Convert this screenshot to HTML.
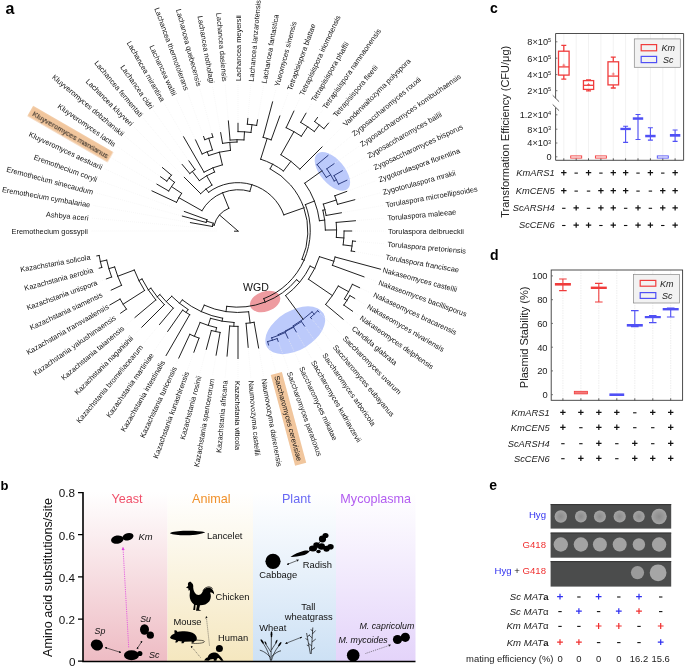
<!DOCTYPE html>
<html><head><meta charset="utf-8">
<style>
html,body{margin:0;padding:0;background:#fff;width:685px;height:667px;overflow:hidden}
svg{display:block;font-family:"Liberation Sans",sans-serif;will-change:transform}
.lab text{font-size:7.4px;fill:#111}
.b{font-weight:bold}
.it{font-style:italic}
</style></head><body>
<svg width="685" height="667" viewBox="0 0 685 667">
<defs>
<linearGradient id="gY" x1="0" y1="0" x2="0" y2="1"><stop offset="0" stop-color="#ffffff"/><stop offset="1" stop-color="#eebcc4"/></linearGradient>
<linearGradient id="gA" x1="0" y1="0" x2="0" y2="1"><stop offset="0" stop-color="#ffffff"/><stop offset="1" stop-color="#f5e7bf"/></linearGradient>
<linearGradient id="gP" x1="0" y1="0" x2="0" y2="1"><stop offset="0" stop-color="#ffffff"/><stop offset="1" stop-color="#cde1f5"/></linearGradient>
<linearGradient id="gM" x1="0" y1="0" x2="0" y2="1"><stop offset="0" stop-color="#ffffff"/><stop offset="1" stop-color="#e4d4fa"/></linearGradient>
<marker id="ah" viewBox="0 0 6 6" refX="5" refY="3" markerWidth="4" markerHeight="4" orient="auto-start-reverse"><path d="M0,0 L6,3 L0,6 z" fill="#111"/></marker>
<marker id="ahm" viewBox="0 0 6 6" refX="5" refY="3" markerWidth="4" markerHeight="4" orient="auto-start-reverse"><path d="M0,0 L6,3 L0,6 z" fill="#e040e0"/></marker>
</defs>

<!-- panel letters -->
<text x="5.5" y="14.4" font-size="16" class="b" fill="#000">a</text>
<text x="490" y="12.5" font-size="14" class="b" fill="#000">c</text>
<text x="0.5" y="490" font-size="13" class="b" fill="#000">b</text>
<text x="490" y="260" font-size="14" class="b" fill="#000">d</text>
<text x="489.3" y="490" font-size="14" class="b" fill="#000">e</text>

<!-- ================= PANEL A: tree ================= -->
<g id="tree">
<ellipse cx="332.4" cy="171.4" rx="23.3" ry="12.1" transform="rotate(49.5 332.4 171.4)" fill="#bccafb"/>
<ellipse cx="295.25" cy="330.25" rx="32.9" ry="19.7" transform="rotate(-31 295.25 330.25)" fill="#bccafb"/>
<ellipse cx="265.1" cy="301.5" rx="15.65" ry="10" transform="rotate(-18 265.1 301.5)" fill="#ee9ba0"/>
<text x="243.1" y="291.4" font-size="10" textLength="25.8" lengthAdjust="spacingAndGlyphs" fill="#111">WGD</text>
<path d="M234,231.2 H238.6" stroke="#141414" stroke-width="0.95"/>
<path d="M216.50,231.00 L90.50,231.00 M216.58,229.13 L91.06,218.14 M188.96,222.35 L92.74,205.39 M180.91,215.70 L95.53,192.82 M182.93,210.96 L99.40,180.55 M150.63,190.26 L104.32,168.66 M155.64,183.45 L110.26,157.25 M159.28,175.88 L117.18,146.40 M161.24,166.59 L125.01,136.19 M183.20,176.20 L133.70,126.70 M181.18,163.28 L143.19,118.01 M188.04,159.65 L153.40,110.18 M182.85,135.48 L164.25,103.26 M194.89,138.56 L175.66,97.32 M203.08,135.06 L187.55,92.40 M211.52,132.19 L199.82,88.53 M220.39,131.14 L212.39,85.74 M228.24,119.43 L225.14,84.06 M238.00,121.80 L238.00,83.50 M247.98,116.94 L250.86,84.06 M257.87,118.34 L263.61,85.74 M272.99,100.41 L276.18,88.53 M280.38,114.57 L288.45,92.40 M294.55,109.74 L300.34,97.32 M306.75,111.92 L311.75,103.26 M318.36,116.24 L322.60,110.18 M329.47,121.99 L332.81,118.01 M323.14,145.86 L342.30,126.70 M329.16,154.51 L350.99,136.19 M335.23,162.92 L358.82,146.40 M343.66,170.00 L365.74,157.25 M348.21,179.61 L371.68,168.66 M348.13,190.92 L376.60,180.55 M356.23,199.32 L380.47,192.82 M342.88,212.51 L383.26,205.39 M356.95,220.59 L384.94,218.14 M353.20,231.00 L385.50,231.00 M357.05,241.42 L384.94,243.86 M356.18,251.84 L383.26,256.61 M381.92,269.56 L380.47,269.18 M365.42,277.38 L376.60,281.45 M360.99,288.35 L371.68,293.34 M356.04,299.15 L365.74,304.75 M353.83,312.10 L358.82,315.60 M344.33,320.22 L350.99,325.81 M320.10,313.10 L342.30,335.30 M312.56,319.86 L332.81,343.99 M305.45,327.33 L322.60,351.82 M297.00,333.19 L311.75,358.74 M288.59,339.49 L300.34,364.68 M278.70,342.82 L288.45,369.60 M268.93,346.43 L276.18,373.47 M258.89,349.47 L263.61,376.26 M248.31,348.85 L250.86,377.94 M238.00,360.00 L238.00,378.50 M226.92,357.62 L225.14,377.94 M215.84,356.66 L212.39,376.26 M205.91,350.77 L199.82,373.47 M193.37,353.63 L187.55,369.60 M178.11,359.42 L175.66,364.68 M165.35,356.83 L164.25,358.74 M166.82,332.66 L153.40,351.82 M158.55,325.68 L143.19,343.99 M140.70,328.30 L133.70,335.30 M133.82,318.42 L125.01,325.81 M119.39,314.05 L117.18,315.60 M108.62,305.70 L110.26,304.75 M109.85,290.76 L104.32,293.34 M104.94,279.43 L99.40,281.45 M97.75,268.58 L95.53,269.18 M95.30,256.16 L92.74,256.61" fill="none" stroke="#f0f0f0" stroke-width="0.6" stroke-dasharray="0.8,1.2"/>
<path d="M238.00,231.00 L219.48,214.96 M228.83,208.28 A24.50,24.50 0 0 0 214.20,225.18 M214.20,225.18 L212.75,224.82 M213.20,223.18 A26.00,26.00 0 0 0 212.39,226.49 M213.20,223.18 L206.53,221.08 M206.99,219.71 A33.00,33.00 0 0 0 206.12,222.46 M206.12,222.46 L182.36,216.09 M206.99,219.71 L184.34,211.47 M212.39,226.49 L190.43,222.61 M228.83,208.28 L222.50,192.61 M249.87,191.34 A41.40,41.40 0 0 0 201.92,210.69 M201.92,210.69 L178.92,197.74 M181.63,193.33 A67.80,67.80 0 0 0 176.55,202.35 M176.55,202.35 L151.99,190.89 M181.63,193.33 L171.48,186.55 M174.53,182.30 A80.00,80.00 0 0 0 168.72,191.00 M168.72,191.00 L156.94,184.20 M174.53,182.30 L169.06,178.10 M171.43,175.14 A86.90,86.90 0 0 0 166.82,181.16 M166.82,181.16 L160.51,176.74 M171.43,175.14 L162.39,167.56 M249.87,191.34 L251.93,184.44 M283.84,214.86 A48.60,48.60 0 0 0 208.56,192.33 M208.56,192.33 L206.01,188.99 M211.94,185.08 A52.80,52.80 0 0 0 200.66,193.66 M200.66,193.66 L184.26,177.26 M211.94,185.08 L206.66,175.77 M214.58,171.98 A63.50,63.50 0 0 0 199.34,180.62 M199.34,180.62 L192.34,171.50 M194.98,169.56 A75.00,75.00 0 0 0 189.79,173.55 M189.79,173.55 L182.14,164.43 M194.98,169.56 L188.90,160.88 M214.58,171.98 L212.92,167.79 M222.38,164.82 A68.00,68.00 0 0 0 204.00,172.11 M204.00,172.11 L183.60,136.78 M222.38,164.82 L219.39,152.17 M230.50,150.35 A81.00,81.00 0 0 0 208.64,155.51 M208.64,155.51 L207.19,151.78 M212.44,149.93 A85.00,85.00 0 0 0 202.08,153.96 M202.08,153.96 L195.53,139.92 M212.44,149.93 L208.77,138.30 M212.84,137.11 A97.20,97.20 0 0 0 204.76,139.66 M204.76,139.66 L203.59,136.47 M212.84,137.11 L211.91,133.63 M230.50,150.35 L229.76,142.38 M237.03,142.01 A89.00,89.00 0 0 0 222.55,143.35 M222.55,143.35 L220.65,132.62 M237.03,142.01 L237.00,139.71 M243.97,139.90 A91.30,91.30 0 0 0 230.04,140.05 M230.04,140.05 L228.37,120.92 M243.97,139.90 L244.50,131.81 M250.97,132.45 A99.40,99.40 0 0 0 238.00,131.60 M238.00,131.60 L238.00,123.30 M250.97,132.45 L251.99,124.72 M256.62,125.43 A107.20,107.20 0 0 0 247.34,124.21 M247.34,124.21 L247.85,118.43 M256.62,125.43 L257.60,119.82 M283.84,214.86 L304.03,207.75 M302.02,259.32 A70.00,70.00 0 0 0 270.15,168.82 M270.15,168.82 L272.59,164.11 M283.51,171.01 A75.30,75.30 0 0 0 260.64,159.19 M260.64,159.19 L267.17,138.49 M271.18,139.85 A97.00,97.00 0 0 0 263.11,137.31 M263.11,137.31 L272.60,101.86 M271.18,139.85 L279.86,115.98 M283.51,171.01 L290.89,161.29 M299.87,169.13 A87.50,87.50 0 0 0 280.92,154.75 M280.92,154.75 L293.92,131.66 M301.34,136.21 A114.00,114.00 0 0 0 286.18,127.68 M286.18,127.68 L293.91,111.10 M301.34,136.21 L307.67,126.73 M314.34,131.51 A125.40,125.40 0 0 0 300.70,122.40 M300.70,122.40 L306.00,113.22 M314.34,131.51 L319.33,125.01 M323.88,128.66 A133.60,133.60 0 0 0 314.63,121.56 M314.63,121.56 L317.50,117.47 M323.88,128.66 L328.50,123.14 M299.87,169.13 L322.07,146.93 M302.02,259.32 L304.21,260.29 M263.79,298.65 A72.40,72.40 0 0 0 305.41,204.58 M305.41,204.58 L314.44,201.04 M319.45,220.73 A82.10,82.10 0 0 0 304.73,183.18 M304.73,183.18 L321.97,170.83 M319.45,220.73 L324.71,220.06 M325.39,230.05 A87.40,87.40 0 0 0 322.90,210.23 M322.90,210.23 L324.94,209.73 M326.14,215.46 A89.50,89.50 0 0 0 323.36,204.09 M323.36,204.09 L336.23,200.03 M337.49,204.34 A103.00,103.00 0 0 0 334.79,195.77 M334.79,195.77 L346.72,191.43 M337.49,204.34 L354.78,199.71 M326.14,215.46 L341.40,212.77 M325.39,230.05 L336.59,229.92 M336.39,237.45 A98.60,98.60 0 0 0 336.22,222.41 M336.22,222.41 L355.45,220.72 M336.39,237.45 L343.87,237.94 M343.19,244.85 A106.10,106.10 0 0 0 344.10,231.00 M344.10,231.00 L351.70,231.00 M343.19,244.85 L352.02,246.01 M351.25,250.97 A115.00,115.00 0 0 0 352.56,241.02 M352.56,241.02 L355.55,241.28 M351.25,250.97 L354.70,251.58 M263.79,298.65 L265.15,302.20 M226.75,306.36 A76.20,76.20 0 0 0 296.57,279.74 M296.57,279.74 L299.65,282.30 M285.60,295.55 A80.20,80.20 0 0 0 310.12,266.08 M310.12,266.08 L314.80,268.35 M308.49,279.22 A85.40,85.40 0 0 0 319.45,256.68 M319.45,256.68 L333.85,261.22 M332.44,265.37 A100.50,100.50 0 0 0 335.08,257.01 M335.08,257.01 L380.47,269.18 M332.44,265.37 L364.01,276.86 M308.49,279.22 L332.42,295.59 M325.64,304.53 A114.40,114.40 0 0 0 338.30,286.03 M338.30,286.03 L348.64,291.70 M344.44,298.81 A126.20,126.20 0 0 0 352.38,284.33 M352.38,284.33 L359.63,287.72 M344.44,298.81 L346.97,300.42 M343.83,305.11 A129.20,129.20 0 0 0 349.89,295.60 M349.89,295.60 L354.74,298.40 M343.83,305.11 L352.60,311.24 M325.64,304.53 L343.18,319.25 M285.60,295.55 L303.11,319.29 M226.75,306.36 L225.97,311.61 M204.23,305.17 A81.50,81.50 0 0 0 248.64,311.80 M248.64,311.80 L250.10,322.91 M246.08,323.35 A92.70,92.70 0 0 0 254.10,322.29 M254.10,322.29 L258.63,348.00 M246.08,323.35 L248.18,347.36 M204.23,305.17 L201.28,311.63 M182.28,299.89 A88.60,88.60 0 0 0 222.61,318.25 M222.61,318.25 L222.09,321.21 M210.46,318.36 A91.60,91.60 0 0 0 234.00,322.51 M234.00,322.51 L233.84,326.31 M229.69,326.04 A95.40,95.40 0 0 0 238.00,326.40 M238.00,326.40 L238.00,358.50 M229.69,326.04 L227.05,356.12 M210.46,318.36 L208.23,325.42 M200.11,322.46 A99.00,99.00 0 0 0 216.57,327.65 M216.57,327.65 L215.71,331.56 M211.34,330.49 A103.00,103.00 0 0 0 220.11,332.44 M220.11,332.44 L216.10,355.18 M211.34,330.49 L206.29,349.33 M200.11,322.46 L194.37,336.32 M189.82,334.32 A114.00,114.00 0 0 0 199.01,338.12 M199.01,338.12 L193.88,352.22 M189.82,334.32 L178.75,358.06 M182.28,299.89 L179.52,303.31 M171.75,296.27 A93.00,93.00 0 0 0 188.03,309.44 M188.03,309.44 L186.10,312.47 M182.59,310.13 A96.60,96.60 0 0 0 189.70,314.66 M189.70,314.66 L166.10,355.53 M182.59,310.13 L167.68,331.43 M171.75,296.27 L166.26,301.67 M159.90,294.56 A100.70,100.70 0 0 0 173.27,308.14 M173.27,308.14 L159.52,324.53 M159.90,294.56 L157.18,296.77 M150.89,288.18 A104.20,104.20 0 0 0 164.32,304.68 M164.32,304.68 L141.76,327.24 M150.89,288.18 L148.30,289.88 M142.03,278.98 A107.30,107.30 0 0 0 155.80,299.97 M155.80,299.97 L134.97,317.45 M142.03,278.98 L138.90,280.55 M134.30,270.03 A110.80,110.80 0 0 0 144.55,290.53 M144.55,290.53 L123.13,304.18 M120.05,299.10 A136.20,136.20 0 0 0 126.43,309.12 M126.43,309.12 L120.62,313.19 M120.05,299.10 L109.91,304.95 M134.30,270.03 L117.74,276.26 M114.63,266.96 A128.50,128.50 0 0 0 121.54,285.31 M121.54,285.31 L111.21,290.12 M114.63,266.96 L108.87,268.64 M106.69,260.11 A134.50,134.50 0 0 0 111.61,277.00 M111.61,277.00 L106.35,278.92 M106.69,260.11 L100.34,261.52 M99.14,255.48 A141.00,141.00 0 0 0 101.80,267.49 M101.80,267.49 L99.20,268.19 M99.14,255.48 L96.78,255.90" fill="none" stroke="#141414" stroke-width="0.95" stroke-linecap="square"/>
<path d="M326.31,177.41 A103.30,103.30 0 0 0 317.13,164.60 M317.13,164.60 L328.01,155.47 M326.31,177.41 L330.67,174.76 M334.15,180.95 A108.40,108.40 0 0 0 326.80,168.82 M326.80,168.82 L334.00,163.78 M334.15,180.95 L336.37,179.79 M338.51,184.13 A110.90,110.90 0 0 0 334.04,175.55 M334.04,175.55 L342.36,170.75 M338.51,184.13 L346.85,180.24 M293.37,325.70 A109.70,109.70 0 0 0 312.11,311.88 M312.11,311.88 L314.21,314.16 M310.51,317.41 A112.80,112.80 0 0 0 317.76,310.76 M317.76,310.76 L319.03,312.03 M310.51,317.41 L311.60,318.71 M293.37,325.70 L293.82,326.48 M285.83,330.72 A110.60,110.60 0 0 0 301.44,321.60 M301.44,321.60 L304.59,326.10 M285.83,330.72 L286.05,331.17 M278.27,334.55 A111.10,111.10 0 0 0 293.55,327.22 M293.55,327.22 L296.25,331.89 M278.27,334.55 L278.59,335.38 M271.68,337.82 A112.00,112.00 0 0 0 285.33,332.51 M285.33,332.51 L287.95,338.13 M271.68,337.82 L272.43,340.20 M267.63,341.60 A114.50,114.50 0 0 0 277.16,338.59 M277.16,338.59 L278.19,341.41 M267.63,341.60 L268.54,344.98" fill="none" stroke="#27377a" stroke-width="0.95" stroke-linecap="square"/>
</g>
<g class="lab">
<g transform="translate(88.00,231.00) rotate(0.00)"><text x="0" y="2.6" text-anchor="end">Eremothecium gossypii</text></g>
<g transform="translate(88.57,217.93) rotate(5.00)"><text x="0" y="2.6" text-anchor="end">Ashbya aceri</text></g>
<g transform="translate(90.28,204.95) rotate(10.00)"><text x="0" y="2.6" text-anchor="end">Eremothecium cymbalariae</text></g>
<g transform="translate(93.11,192.18) rotate(15.00)"><text x="0" y="2.6" text-anchor="end">Eremothecium sinecaudum</text></g>
<g transform="translate(97.05,179.70) rotate(20.00)"><text x="0" y="2.6" text-anchor="end">Eremothecium coryli</text></g>
<g transform="translate(102.05,167.61) rotate(25.00)"><text x="0" y="2.6" text-anchor="end">Kluyveromyces aestuarii</text></g>
<g transform="translate(108.10,156.00) rotate(30.00)"><rect x="-89.9" y="-5.9" width="92.4" height="11.5" fill="#f1c69d"/><text x="0" y="2.6" text-anchor="end">Kluyveromyces marxianus</text></g>
<g transform="translate(115.13,144.96) rotate(35.00)"><text x="0" y="2.6" text-anchor="end">Kluyveromyces lactis</text></g>
<g transform="translate(123.09,134.58) rotate(40.00)"><text x="0" y="2.6" text-anchor="end">Kluyveromyces dobzhanskii</text></g>
<g transform="translate(131.93,124.93) rotate(45.00)"><text x="0" y="2.6" text-anchor="end">Lachancea kluyveri</text></g>
<g transform="translate(141.58,116.09) rotate(50.00)"><text x="0" y="2.6" text-anchor="end">Lachancea fermentati</text></g>
<g transform="translate(151.96,108.13) rotate(55.00)"><text x="0" y="2.6" text-anchor="end">Lachancea cidri</text></g>
<g transform="translate(163.00,101.10) rotate(60.00)"><text x="0" y="2.6" text-anchor="end">Lachancea mirantina</text></g>
<g transform="translate(174.61,95.05) rotate(65.00)"><text x="0" y="2.6" text-anchor="end">Lachancea waltii</text></g>
<g transform="translate(186.70,90.05) rotate(70.00)"><text x="0" y="2.6" text-anchor="end">Lachancea thermotolerans</text></g>
<g transform="translate(199.18,86.11) rotate(75.00)"><text x="0" y="2.6" text-anchor="end">Lachancea quebecensis</text></g>
<g transform="translate(211.95,83.28) rotate(80.00)"><text x="0" y="2.6" text-anchor="end">Lachancea nothofagi</text></g>
<g transform="translate(224.93,81.57) rotate(85.00)"><text x="0" y="2.6" text-anchor="end">Lachancea dasiensis</text></g>
<g transform="translate(238.00,81.00) rotate(-90.00)"><text x="0" y="2.6" text-anchor="start">Lachancea meyersii</text></g>
<g transform="translate(251.07,81.57) rotate(-85.00)"><text x="0" y="2.6" text-anchor="start">Lachancea lanzarotensis</text></g>
<g transform="translate(264.05,83.28) rotate(-80.00)"><text x="0" y="2.6" text-anchor="start">Lachancea fantastica</text></g>
<g transform="translate(276.82,86.11) rotate(-75.00)"><text x="0" y="2.6" text-anchor="start">Yueomyces sinensis</text></g>
<g transform="translate(289.30,90.05) rotate(-70.00)"><text x="0" y="2.6" text-anchor="start">Tetrapisispora blattae</text></g>
<g transform="translate(301.39,95.05) rotate(-65.00)"><text x="0" y="2.6" text-anchor="start">Tetrapisispora iriomotensis</text></g>
<g transform="translate(313.00,101.10) rotate(-60.00)"><text x="0" y="2.6" text-anchor="start">Tetrapisispora phaffii</text></g>
<g transform="translate(324.04,108.13) rotate(-55.00)"><text x="0" y="2.6" text-anchor="start">Tetrapisispora namnaonensis</text></g>
<g transform="translate(334.42,116.09) rotate(-50.00)"><text x="0" y="2.6" text-anchor="start">Tetrapisispora fleetii</text></g>
<g transform="translate(344.07,124.93) rotate(-45.00)"><text x="0" y="2.6" text-anchor="start">Vanderwaltozyma polyspora</text></g>
<g transform="translate(352.91,134.58) rotate(-40.00)"><text x="0" y="2.6" text-anchor="start">Zygosaccharomyces rouxii</text></g>
<g transform="translate(360.87,144.96) rotate(-35.00)"><text x="0" y="2.6" text-anchor="start">Zygosaccharomyces kombuchaensis</text></g>
<g transform="translate(367.90,156.00) rotate(-30.00)"><text x="0" y="2.6" text-anchor="start">Zygosaccharomyces bailii</text></g>
<g transform="translate(373.95,167.61) rotate(-25.00)"><text x="0" y="2.6" text-anchor="start">Zygosaccharomyces bisporus</text></g>
<g transform="translate(378.95,179.70) rotate(-20.00)"><text x="0" y="2.6" text-anchor="start">Zygotorulaspora florentina</text></g>
<g transform="translate(382.89,192.18) rotate(-15.00)"><text x="0" y="2.6" text-anchor="start">Zygotorulaspora mrakii</text></g>
<g transform="translate(385.72,204.95) rotate(-10.00)"><text x="0" y="2.6" text-anchor="start">Torulaspora microellipsoides</text></g>
<g transform="translate(387.43,217.93) rotate(-5.00)"><text x="0" y="2.6" text-anchor="start">Torulaspora maleeae</text></g>
<g transform="translate(388.00,231.00) rotate(-0.00)"><text x="0" y="2.6" text-anchor="start">Torulaspora delbrueckii</text></g>
<g transform="translate(387.43,244.07) rotate(5.00)"><text x="0" y="2.6" text-anchor="start">Torulaspora pretoriensis</text></g>
<g transform="translate(385.72,257.05) rotate(10.00)"><text x="0" y="2.6" text-anchor="start">Torulaspora franciscae</text></g>
<g transform="translate(382.89,269.82) rotate(15.00)"><text x="0" y="2.6" text-anchor="start">Nakaseomyces castellii</text></g>
<g transform="translate(378.95,282.30) rotate(20.00)"><text x="0" y="2.6" text-anchor="start">Nakaseomyces bacillisporus</text></g>
<g transform="translate(373.95,294.39) rotate(25.00)"><text x="0" y="2.6" text-anchor="start">Nakaseomyces bracarensis</text></g>
<g transform="translate(367.90,306.00) rotate(30.00)"><text x="0" y="2.6" text-anchor="start">Nakaseomyces nivariensis</text></g>
<g transform="translate(360.87,317.04) rotate(35.00)"><text x="0" y="2.6" text-anchor="start">Nakaseomyces delphensis</text></g>
<g transform="translate(352.91,327.42) rotate(40.00)"><text x="0" y="2.6" text-anchor="start">Candida glabrata</text></g>
<g transform="translate(344.07,337.07) rotate(45.00)"><text x="0" y="2.6" text-anchor="start">Saccharomyces uvarum</text></g>
<g transform="translate(334.42,345.91) rotate(50.00)"><text x="0" y="2.6" text-anchor="start">Saccharomyces eubayanus</text></g>
<g transform="translate(324.04,353.87) rotate(55.00)"><text x="0" y="2.6" text-anchor="start">Saccharomyces arboricola</text></g>
<g transform="translate(313.00,360.90) rotate(60.00)"><text x="0" y="2.6" text-anchor="start">Saccharomyces kudriavzevii</text></g>
<g transform="translate(301.39,366.95) rotate(65.00)"><text x="0" y="2.6" text-anchor="start">Saccharomyces mikatae</text></g>
<g transform="translate(289.30,371.95) rotate(70.00)"><text x="0" y="2.6" text-anchor="start">Saccharomyces paradoxus</text></g>
<g transform="translate(276.82,375.89) rotate(75.00)"><rect x="-2.5" y="-5.9" width="94.0" height="11.5" fill="#f1c69d"/><text x="0" y="2.6" text-anchor="start">Saccharomyces cerevisiae</text></g>
<g transform="translate(264.05,378.72) rotate(80.00)"><text x="0" y="2.6" text-anchor="start">Naumovozyma dairenensis</text></g>
<g transform="translate(251.07,380.43) rotate(85.00)"><text x="0" y="2.6" text-anchor="start">Naumovozyma castellii</text></g>
<g transform="translate(238.00,381.00) rotate(90.00)"><text x="0" y="2.6" text-anchor="start">Kazachstania viticola</text></g>
<g transform="translate(224.93,380.43) rotate(275.00)"><text x="0" y="2.6" text-anchor="end">Kazachstania africana</text></g>
<g transform="translate(211.95,378.72) rotate(280.00)"><text x="0" y="2.6" text-anchor="end">Kazachstania spencerorum</text></g>
<g transform="translate(199.18,375.89) rotate(285.00)"><text x="0" y="2.6" text-anchor="end">Kazachstania rosinii</text></g>
<g transform="translate(186.70,371.95) rotate(290.00)"><text x="0" y="2.6" text-anchor="end">Kazachstania kunashirensis</text></g>
<g transform="translate(174.61,366.95) rotate(295.00)"><text x="0" y="2.6" text-anchor="end">Kazachstania turicensis</text></g>
<g transform="translate(163.00,360.90) rotate(300.00)"><text x="0" y="2.6" text-anchor="end">Kazachstania intestinalis</text></g>
<g transform="translate(151.96,353.87) rotate(305.00)"><text x="0" y="2.6" text-anchor="end">Kazachstania martiniae</text></g>
<g transform="translate(141.58,345.91) rotate(310.00)"><text x="0" y="2.6" text-anchor="end">Kazachstania bromeliacearum</text></g>
<g transform="translate(131.93,337.07) rotate(315.00)"><text x="0" y="2.6" text-anchor="end">Kazachstania naganishii</text></g>
<g transform="translate(123.09,327.42) rotate(320.00)"><text x="0" y="2.6" text-anchor="end">Kazachstania taianensis</text></g>
<g transform="translate(115.13,317.04) rotate(325.00)"><text x="0" y="2.6" text-anchor="end">Kazachstania yakushimaensis</text></g>
<g transform="translate(108.10,306.00) rotate(330.00)"><text x="0" y="2.6" text-anchor="end">Kazachstania transvaalensis</text></g>
<g transform="translate(102.05,294.39) rotate(335.00)"><text x="0" y="2.6" text-anchor="end">Kazachstania siamensis</text></g>
<g transform="translate(97.05,282.30) rotate(340.00)"><text x="0" y="2.6" text-anchor="end">Kazachstania unispora</text></g>
<g transform="translate(93.11,269.82) rotate(345.00)"><text x="0" y="2.6" text-anchor="end">Kazachstania aerobia</text></g>
<g transform="translate(90.28,257.05) rotate(350.00)"><text x="0" y="2.6" text-anchor="end">Kazachstania solicola</text></g>
</g>

<!-- ================= PANEL B ================= -->
<g id="pb">
<rect x="83" y="492" width="84.5" height="169" fill="url(#gY)"/>
<rect x="167.5" y="492" width="85.5" height="169" fill="url(#gA)"/>
<rect x="253" y="492" width="83" height="169" fill="url(#gP)"/>
<rect x="336" y="492" width="79.5" height="169" fill="url(#gM)"/>
<g font-size="12.6" text-anchor="middle">
<text x="127" y="502.6" fill="#f0506a">Yeast</text>
<text x="211.3" y="502.6" fill="#f0902a">Animal</text>
<text x="296.3" y="502.6" fill="#6868f4">Plant</text>
<text x="375.7" y="502.6" fill="#b25cf0">Mycoplasma</text>
</g>
<!-- axes -->
<path d="M83,492 V661.5 H415.5" fill="none" stroke="#000" stroke-width="1.6"/>
<path d="M78,492.6 H83 M78,534.7 H83 M78,576.9 H83 M78,619.1 H83 M78,661.2 H83" stroke="#000" stroke-width="1.3"/>
<g font-size="11.7" text-anchor="end" fill="#111">
<text x="75" y="497.4">0.8</text>
<text x="75" y="539.5">0.6</text>
<text x="75" y="581.7">0.4</text>
<text x="75" y="624">0.2</text>
<text x="75.5" y="665.9">0</text>
</g>
<text transform="translate(52.2,577.5) rotate(-90)" font-size="12.6" text-anchor="middle" fill="#111">Amino acid substitutions/site</text>

<!-- yeast -->
<ellipse cx="117.3" cy="539.6" rx="6.3" ry="4.1" fill="#000" transform="rotate(-10 117.3 539.6)"/>
<ellipse cx="128" cy="536.8" rx="5.6" ry="3.6" fill="#000" transform="rotate(-15 128 536.8)"/>
<text x="138.6" y="540" font-size="9.4" class="it" fill="#111">Km</text>
<path d="M128.7,647.3 L123,547.5" stroke="#e040e0" stroke-width="0.8" stroke-dasharray="1.2,1" marker-end="url(#ahm)"/>
<ellipse cx="96.9" cy="645" rx="6.2" ry="5.4" fill="#000" transform="rotate(25 96.9 645)"/>
<text x="94.6" y="634.4" font-size="8.8" class="it" fill="#111">Sp</text>
<ellipse cx="131.5" cy="655.3" rx="7.5" ry="5" fill="#000"/>
<circle cx="139.8" cy="653.5" r="2.6" fill="#000"/>
<text x="148.9" y="658.4" font-size="9" class="it" fill="#111">Sc</text>
<ellipse cx="144.5" cy="629.5" rx="4.5" ry="5.2" fill="#000"/>
<circle cx="150.3" cy="635.2" r="3.6" fill="#000"/>
<text x="140.2" y="622.2" font-size="8.8" class="it" fill="#111">Su</text>
<path d="M105,647.5 L121,652.5" stroke="#111" stroke-width="0.6" marker-start="url(#ah)" marker-end="url(#ah)"/>
<path d="M137,649 L142,641" stroke="#111" stroke-width="0.6" marker-start="url(#ah)" marker-end="url(#ah)"/>

<!-- animal -->
<path d="M169.8,533.2 C173,531.6 178,530.9 186,530.8 C194,530.7 201,531.2 205.3,532.3 C203,533.8 196,535.2 186,535.3 C178,535.3 173,534.6 169.8,533.2 Z" fill="#000"/>
<text x="207" y="538.6" font-size="9.4" fill="#111">Lancelet</text>
<!-- rooster -->
<path d="M186,587.4 L188.2,586 C187.6,584.2 187.9,582.3 189.3,582 C190.2,581.4 191.4,581.9 191.6,583 C192.8,583.4 193.6,585.2 193.2,587.5 C193.4,590 194.2,592.6 196.5,594.6 C199,595.6 201.3,594.6 202.4,592 C203.4,589.2 206,587.4 209.5,587.8 C212.3,588.3 214,591 214.2,594.5 C213,592.8 211.3,592.2 210,592.6 C211.3,595.2 211.2,598.6 209.4,601.2 C207,604.2 203.5,605.4 200,605.3 L199,609.6 L201.3,610.8 L196,610.8 L197,605.2 L195.5,605 L195.2,610 L193.2,610 L194,604.4 C191.4,602.6 189.6,599.4 189.6,595.8 C189.6,593.6 190.3,591.6 189.8,590 L188.6,590.8 L188.4,588.6 Z" fill="#000"/>
<path d="M203,590.5 C205.5,586.5 210,586 212.5,588.5 M205,592 C208,589.5 211.5,590 213.5,593" fill="none" stroke="#000" stroke-width="0.9"/>
<text x="215.5" y="600.4" font-size="9.4" fill="#111">Chicken</text>
<text x="173.4" y="625.3" font-size="9.4" fill="#111">Mouse</text>
<path d="M170,637.8 C170.8,635.6 172.6,634 174.6,633.4 L174.3,630.6 C175.6,629.6 177.3,630.3 177.4,632 C178,631.6 179,631.4 180,631.6 C185,630.6 191,631.2 194.5,634 C196.6,635.8 197.4,638.4 196.5,640.4 L194.2,641.4 L193.6,642.8 L191.6,642.8 L191.6,641.6 L184.5,641.8 L183.4,643.2 L181.4,643.2 L181.8,641.6 L178.5,641 L177,642.6 L175.2,642.4 L176,640.2 C173.6,639.8 171.2,639.2 170,637.8 Z" fill="#000"/>
<path d="M196.3,640 C199.5,640.6 203.5,639.8 204.5,641.6 C203.6,643.4 197,643.6 191.5,643.4" fill="none" stroke="#000" stroke-width="0.6"/>
<text x="218" y="641.1" font-size="9.4" fill="#111">Human</text>
<!-- baby -->
<circle cx="219.4" cy="648.6" r="3.5" fill="#000"/>
<path d="M204.2,660.6 C204.8,658.6 206.2,657.6 207.6,657.4 C208.4,654.6 210.6,652.6 213.6,652.4 C215.4,652.3 216.8,652.8 217.8,653.6 L221.4,657.4 L223.6,660.8 L221.2,660.8 L218.6,658 L217,658.6 L216.4,660.8 L213.8,660.8 L213.6,659 L210.4,659.6 L208.6,660.8 Z" fill="#000"/>
<path d="M209.5,645.5 L206.3,616.5" stroke="#333" stroke-width="0.6" stroke-dasharray="1,1" marker-end="url(#ah)"/>
<path d="M200.5,657.5 L191,646" stroke="#333" stroke-width="0.6" stroke-dasharray="1,1" marker-end="url(#ah)"/>

<!-- plant -->
<circle cx="273" cy="561.3" r="7.6" fill="#000"/>
<text x="259.2" y="578.3" font-size="9.4" fill="#111">Cabbage</text>
<path d="M290.5,557 C294,554.5 299,552 304,550.8 C306.5,550.2 308.5,550.4 309.5,551.5 C308,553.5 305.5,554.8 302,555.6 C298,556.6 294,557.2 290.5,557 Z" fill="#000"/>
<g fill="#000">
<ellipse cx="313" cy="548.5" rx="4" ry="3"/>
<ellipse cx="316.5" cy="545" rx="3.2" ry="2.8"/>
<ellipse cx="321.5" cy="546.5" rx="3.5" ry="3.2"/>
<ellipse cx="326.5" cy="548.8" rx="3.2" ry="3"/>
<ellipse cx="330.5" cy="546.8" rx="3.2" ry="2.8"/>
<ellipse cx="322.5" cy="539" rx="3.6" ry="3.4"/>
<ellipse cx="325.5" cy="535.5" rx="3" ry="2.6"/>
<ellipse cx="318.5" cy="551.5" rx="2.2" ry="1.8"/>
</g>
<path d="M309,551 L316,547 M312,549 L322,540 M313,548 L330,547" stroke="#000" stroke-width="0.9"/>
<text x="302.7" y="568" font-size="9.4" fill="#111">Radish</text>
<path d="M287,564.5 L298.5,560" stroke="#111" stroke-width="0.6" marker-start="url(#ah)" marker-end="url(#ah)"/>
<text x="301.3" y="609.8" font-size="9.4" fill="#111">Tall</text>
<text x="284.8" y="620.4" font-size="9.4" fill="#111">wheatgrass</text>
<text x="259.2" y="631" font-size="9.4" fill="#111">Wheat</text>
<g stroke="#000" stroke-width="0.65" fill="none">
<path d="M271,660.5 L271.4,636.5 M270.6,660.5 C268.5,652 265.5,646.5 262.8,643 M271.4,660.5 C273.8,652.5 276.8,648.5 279.2,645.5 M270.6,657.5 C266.5,653 263,651 259.8,650.2 M271.6,656.5 C275.5,652.8 278.5,651.2 281,650.8 M270.8,652 C268.5,648 267,646 266,644.5 M271.5,650 C273.5,646.5 275,644.5 276,643"/>
<path d="M311.2,654 L312.8,627.5 M310.4,654 L306.6,633 M312.4,634 L315.6,630.5 M312.2,638 L309,635 M312,642 L315.8,639 M311.8,646 L308.6,643.5 M311.6,650 L315,647.5 M308,640 L305.5,638.5 M307.4,637 L309.6,634.5 M309,646 L306.8,645 M313,631 L310.6,629.6"/>
</g>
<g fill="#000">
<ellipse cx="271.5" cy="634.2" rx="0.9" ry="3" />
<ellipse cx="262.2" cy="641.5" rx="0.9" ry="2.6" transform="rotate(-35 262.2 641.5)"/>
<ellipse cx="279.8" cy="644.2" rx="0.9" ry="2.6" transform="rotate(35 279.8 644.2)"/>
<ellipse cx="265.6" cy="643" rx="0.7" ry="2" transform="rotate(-25 265.6 643)"/>
<ellipse cx="276.4" cy="641.6" rx="0.7" ry="2" transform="rotate(25 276.4 641.6)"/>
</g>
<path d="M285.5,643.5 L302,637" stroke="#111" stroke-width="0.6" marker-start="url(#ah)" marker-end="url(#ah)"/>

<!-- mycoplasma -->
<text x="359.5" y="628.8" font-size="8.8" class="it" fill="#111">M. capricolum</text>
<text x="338.4" y="642.8" font-size="8.8" class="it" fill="#111">M. mycoides</text>
<circle cx="353.2" cy="655.2" r="6.3" fill="#000"/>
<circle cx="397.5" cy="639.5" r="4.6" fill="#000"/>
<circle cx="405.3" cy="637.3" r="4.6" fill="#000"/>
<path d="M365.5,653.5 L390.5,645" stroke="#333" stroke-width="0.6" stroke-dasharray="1,1" marker-end="url(#ah)"/>
</g>

<g id="pc"><path d="M563.8,33.5 V160.3" stroke="#ececec" stroke-width="0.7"/><path d="M576.2,33.5 V160.3" stroke="#ececec" stroke-width="0.7"/><path d="M588.5,33.5 V160.3" stroke="#ececec" stroke-width="0.7"/><path d="M600.9,33.5 V160.3" stroke="#ececec" stroke-width="0.7"/><path d="M613.3,33.5 V160.3" stroke="#ececec" stroke-width="0.7"/><path d="M625.6,33.5 V160.3" stroke="#ececec" stroke-width="0.7"/><path d="M638.0,33.5 V160.3" stroke="#ececec" stroke-width="0.7"/><path d="M650.4,33.5 V160.3" stroke="#ececec" stroke-width="0.7"/><path d="M662.8,33.5 V160.3" stroke="#ececec" stroke-width="0.7"/><path d="M675.1,33.5 V160.3" stroke="#ececec" stroke-width="0.7"/><path d="M555.6,33.5 H683.6 V160.3 H555.6 V107.6 M555.6,98.4 V33.5" fill="none" stroke="#3a3a3a" stroke-width="0.9"/><path d="M552.7,95.3 L559.1,101.7 M552.7,104.5 L559.1,110.7" stroke="#555" stroke-width="0.9"/><path d="M555.6,41.8 H557.4" stroke="#555" stroke-width="0.8"/><path d="M555.6,58.2 H557.4" stroke="#555" stroke-width="0.8"/><path d="M555.6,74.6 H557.4" stroke="#555" stroke-width="0.8"/><path d="M555.6,90.7 H557.4" stroke="#555" stroke-width="0.8"/><path d="M555.6,114.8 H557.4" stroke="#555" stroke-width="0.8"/><path d="M555.6,129.2 H557.4" stroke="#555" stroke-width="0.8"/><path d="M555.6,143.0 H557.4" stroke="#555" stroke-width="0.8"/><path d="M555.6,156.8 H557.4" stroke="#555" stroke-width="0.8"/><path d="M563.8,160.3 V158.3" stroke="#333" stroke-width="0.8"/><path d="M576.2,160.3 V158.3" stroke="#333" stroke-width="0.8"/><path d="M588.5,160.3 V158.3" stroke="#333" stroke-width="0.8"/><path d="M600.9,160.3 V158.3" stroke="#333" stroke-width="0.8"/><path d="M613.3,160.3 V158.3" stroke="#333" stroke-width="0.8"/><path d="M625.6,160.3 V158.3" stroke="#333" stroke-width="0.8"/><path d="M638.0,160.3 V158.3" stroke="#333" stroke-width="0.8"/><path d="M650.4,160.3 V158.3" stroke="#333" stroke-width="0.8"/><path d="M662.8,160.3 V158.3" stroke="#333" stroke-width="0.8"/><path d="M675.1,160.3 V158.3" stroke="#333" stroke-width="0.8"/><g font-size="9.2" fill="#222" text-anchor="end"><text x="551.2" y="45.2">8×10<tspan dy="-2.9" font-size="5.6">5</tspan></text><text x="551.2" y="61.6">6×10<tspan dy="-2.9" font-size="5.6">5</tspan></text><text x="551.2" y="78.0">4×10<tspan dy="-2.9" font-size="5.6">5</tspan></text><text x="551.2" y="94.1">2×10<tspan dy="-2.9" font-size="5.6">5</tspan></text><text x="551.2" y="118.2">1.2×10<tspan dy="-2.9" font-size="5.6">4</tspan></text><text x="551.2" y="132.6">8×10<tspan dy="-2.9" font-size="5.6">3</tspan></text><text x="551.2" y="146.4">4×10<tspan dy="-2.9" font-size="5.6">3</tspan></text><text x="551.6" y="160.0">0</text></g><text transform="translate(508.6,131.8) rotate(-90)" font-size="11" text-anchor="middle" fill="#222">Transformation Efficiency (CFU/μg)</text><path d="M563.8,45.4 V51.2 M563.8,75.1 V79.2 M561.3,45.4 H566.3 M561.3,79.2 H566.3" stroke="#f03c3c" stroke-width="1.3" fill="none"/><rect x="558.5" y="51.2" width="10.6" height="23.89999999999999" fill="#fff" fill-opacity="0" stroke="#f03c3c" stroke-width="1.3"/><path d="M558.5,66.9 H569.0999999999999" stroke="#f03c3c" stroke-width="1.3"/><path d="M588.54,79.8 V80.6 M588.54,89.4 V90.8 M586.04,79.8 H591.04 M586.04,90.8 H591.04" stroke="#f03c3c" stroke-width="1.3" fill="none"/><rect x="583.4399999999999" y="80.6" width="10.2" height="8.800000000000011" fill="#fff" fill-opacity="0" stroke="#f03c3c" stroke-width="1.3"/><path d="M583.4399999999999,85.3 H593.64" stroke="#f03c3c" stroke-width="1.3"/><path d="M613.28,57.1 V61.8 M613.28,84.9 V88.0 M610.78,57.1 H615.78 M610.78,88.0 H615.78" stroke="#f03c3c" stroke-width="1.3" fill="none"/><rect x="607.98" y="61.8" width="10.6" height="23.10000000000001" fill="#fff" fill-opacity="0" stroke="#f03c3c" stroke-width="1.3"/><path d="M607.98,76.1 H618.5799999999999" stroke="#f03c3c" stroke-width="1.3"/><path d="M562.3,65.2 H565.3 M563.8,63.7 V66.7" stroke="#f03c3c" stroke-width="0.6"/><path d="M587.04,84.5 H590.04 M588.54,83.0 V86.0" stroke="#f03c3c" stroke-width="0.6"/><path d="M611.78,74.0 H614.78 M613.28,72.5 V75.5" stroke="#f03c3c" stroke-width="0.6"/><rect x="570.7" y="155.9" width="11" height="2.2" fill="none" stroke="#f03c3c" stroke-width="0.9"/><rect x="595.4" y="155.9" width="11" height="2.2" fill="none" stroke="#f03c3c" stroke-width="0.9"/><rect x="657.3" y="155.9" width="11" height="2.2" fill="none" stroke="#5050f5" stroke-width="0.9"/><path d="M625.6,126.3 V142.4 M623.1,126.3 H628.1 M623.1,142.4 H628.1" stroke="#5050f5" stroke-width="1.1"/><rect x="620.4" y="127.8" width="10.4" height="2.3" fill="#5050f5"/><path d="M638.0,114.5 V139.5 M635.5,114.5 H640.5 M635.5,139.5 H640.5" stroke="#5050f5" stroke-width="1.1"/><rect x="632.8" y="117.3" width="10.4" height="2.5" fill="#5050f5"/><path d="M650.4,127.8 V140.1 M647.9,127.8 H652.9 M647.9,140.1 H652.9" stroke="#5050f5" stroke-width="1.1"/><rect x="645.2" y="134.8" width="10.4" height="2.5" fill="#5050f5"/><path d="M675.1,130.0 V141.4 M672.6,130.0 H677.6 M672.6,141.4 H677.6" stroke="#5050f5" stroke-width="1.1"/><rect x="669.9" y="134.0" width="10.4" height="2.7" fill="#5050f5"/><rect x="634.3" y="38.9" width="46" height="28.4" fill="#f2f2f2" stroke="#888" stroke-width="0.7"/><rect x="641.2" y="44.6" width="15.4" height="6.2" fill="none" stroke="#f03c3c" stroke-width="1.2"/><rect x="641.2" y="56.4" width="15.4" height="6.2" fill="none" stroke="#5050f5" stroke-width="1.2"/><text x="661.5" y="51.2" font-size="9" class="it" fill="#222">Km</text><text x="663" y="63" font-size="9" class="it" fill="#222">Sc</text><text x="554.6" y="176.0" font-size="9.3" class="it" text-anchor="end" fill="#222">KmARS1</text><path d="M561.10,172.7 H566.50 M563.80,170.0 V175.39999999999998" stroke="#111" stroke-width="1.2"/><path d="M574.47,173.1 H577.87" stroke="#111" stroke-width="1.1"/><path d="M585.84,172.7 H591.24 M588.54,170.0 V175.39999999999998" stroke="#111" stroke-width="1.2"/><path d="M599.21,173.1 H602.61" stroke="#111" stroke-width="1.1"/><path d="M610.58,172.7 H615.98 M613.28,170.0 V175.39999999999998" stroke="#111" stroke-width="1.2"/><path d="M622.95,172.7 H628.35 M625.65,170.0 V175.39999999999998" stroke="#111" stroke-width="1.2"/><path d="M636.32,173.1 H639.72" stroke="#111" stroke-width="1.1"/><path d="M647.69,172.7 H653.09 M650.39,170.0 V175.39999999999998" stroke="#111" stroke-width="1.2"/><path d="M661.06,173.1 H664.46" stroke="#111" stroke-width="1.1"/><path d="M672.43,172.7 H677.83 M675.13,170.0 V175.39999999999998" stroke="#111" stroke-width="1.2"/><text x="554.6" y="194.0" font-size="9.3" class="it" text-anchor="end" fill="#222">KmCEN5</text><path d="M561.10,190.7 H566.50 M563.80,188.0 V193.39999999999998" stroke="#111" stroke-width="1.2"/><path d="M574.47,191.1 H577.87" stroke="#111" stroke-width="1.1"/><path d="M586.84,191.1 H590.24" stroke="#111" stroke-width="1.1"/><path d="M598.21,190.7 H603.61 M600.91,188.0 V193.39999999999998" stroke="#111" stroke-width="1.2"/><path d="M610.58,190.7 H615.98 M613.28,188.0 V193.39999999999998" stroke="#111" stroke-width="1.2"/><path d="M622.95,190.7 H628.35 M625.65,188.0 V193.39999999999998" stroke="#111" stroke-width="1.2"/><path d="M636.32,191.1 H639.72" stroke="#111" stroke-width="1.1"/><path d="M648.69,191.1 H652.09" stroke="#111" stroke-width="1.1"/><path d="M660.06,190.7 H665.46 M662.76,188.0 V193.39999999999998" stroke="#111" stroke-width="1.2"/><path d="M672.43,190.7 H677.83 M675.13,188.0 V193.39999999999998" stroke="#111" stroke-width="1.2"/><text x="554.6" y="211.2" font-size="9.3" class="it" text-anchor="end" fill="#222">ScARSH4</text><path d="M562.10,208.3 H565.50" stroke="#111" stroke-width="1.1"/><path d="M573.47,207.9 H578.87 M576.17,205.20000000000002 V210.6" stroke="#111" stroke-width="1.2"/><path d="M586.84,208.3 H590.24" stroke="#111" stroke-width="1.1"/><path d="M598.21,207.9 H603.61 M600.91,205.20000000000002 V210.6" stroke="#111" stroke-width="1.2"/><path d="M610.58,207.9 H615.98 M613.28,205.20000000000002 V210.6" stroke="#111" stroke-width="1.2"/><path d="M623.95,208.3 H627.35" stroke="#111" stroke-width="1.1"/><path d="M635.32,207.9 H640.72 M638.02,205.20000000000002 V210.6" stroke="#111" stroke-width="1.2"/><path d="M648.69,208.3 H652.09" stroke="#111" stroke-width="1.1"/><path d="M660.06,207.9 H665.46 M662.76,205.20000000000002 V210.6" stroke="#111" stroke-width="1.2"/><path d="M672.43,207.9 H677.83 M675.13,205.20000000000002 V210.6" stroke="#111" stroke-width="1.2"/><text x="554.6" y="228.4" font-size="9.3" class="it" text-anchor="end" fill="#222">ScCEN6</text><path d="M562.10,225.5 H565.50" stroke="#111" stroke-width="1.1"/><path d="M573.47,225.1 H578.87 M576.17,222.4 V227.79999999999998" stroke="#111" stroke-width="1.2"/><path d="M585.84,225.1 H591.24 M588.54,222.4 V227.79999999999998" stroke="#111" stroke-width="1.2"/><path d="M599.21,225.5 H602.61" stroke="#111" stroke-width="1.1"/><path d="M610.58,225.1 H615.98 M613.28,222.4 V227.79999999999998" stroke="#111" stroke-width="1.2"/><path d="M623.95,225.5 H627.35" stroke="#111" stroke-width="1.1"/><path d="M635.32,225.1 H640.72 M638.02,222.4 V227.79999999999998" stroke="#111" stroke-width="1.2"/><path d="M647.69,225.1 H653.09 M650.39,222.4 V227.79999999999998" stroke="#111" stroke-width="1.2"/><path d="M661.06,225.5 H664.46" stroke="#111" stroke-width="1.1"/><path d="M672.43,225.1 H677.83 M675.13,222.4 V227.79999999999998" stroke="#111" stroke-width="1.2"/></g>
<g id="pd"><path d="M562.9,270.0 V400.3" stroke="#e6e6e6" stroke-width="0.7" stroke-dasharray="1.5,1"/><path d="M580.9,270.0 V400.3" stroke="#e6e6e6" stroke-width="0.7" stroke-dasharray="1.5,1"/><path d="M598.8,270.0 V400.3" stroke="#e6e6e6" stroke-width="0.7" stroke-dasharray="1.5,1"/><path d="M616.8,270.0 V400.3" stroke="#e6e6e6" stroke-width="0.7" stroke-dasharray="1.5,1"/><path d="M634.8,270.0 V400.3" stroke="#e6e6e6" stroke-width="0.7" stroke-dasharray="1.5,1"/><path d="M652.8,270.0 V400.3" stroke="#e6e6e6" stroke-width="0.7" stroke-dasharray="1.5,1"/><path d="M670.7,270.0 V400.3" stroke="#e6e6e6" stroke-width="0.7" stroke-dasharray="1.5,1"/><rect x="551.2" y="270.0" width="131.39999999999998" height="130.3" fill="none" stroke="#3a3a3a" stroke-width="0.9"/><path d="M551.2,275.9 H553.0" stroke="#555" stroke-width="0.8"/><text x="547.6" y="279.3" font-size="9.4" text-anchor="end" fill="#222">100</text><path d="M551.2,299.7 H553.0" stroke="#555" stroke-width="0.8"/><text x="547.6" y="303.1" font-size="9.4" text-anchor="end" fill="#222">80</text><path d="M551.2,323.4 H553.0" stroke="#555" stroke-width="0.8"/><text x="547.6" y="326.8" font-size="9.4" text-anchor="end" fill="#222">60</text><path d="M551.2,347.2 H553.0" stroke="#555" stroke-width="0.8"/><text x="547.6" y="350.6" font-size="9.4" text-anchor="end" fill="#222">40</text><path d="M551.2,370.9 H553.0" stroke="#555" stroke-width="0.8"/><text x="547.6" y="374.3" font-size="9.4" text-anchor="end" fill="#222">20</text><path d="M551.2,394.7 H553.0" stroke="#555" stroke-width="0.8"/><text x="547.6" y="398.1" font-size="9.4" text-anchor="end" fill="#222">0</text><path d="M562.9,400.3 V398.3" stroke="#333" stroke-width="0.8"/><path d="M580.9,400.3 V398.3" stroke="#333" stroke-width="0.8"/><path d="M598.8,400.3 V398.3" stroke="#333" stroke-width="0.8"/><path d="M616.8,400.3 V398.3" stroke="#333" stroke-width="0.8"/><path d="M634.8,400.3 V398.3" stroke="#333" stroke-width="0.8"/><path d="M652.8,400.3 V398.3" stroke="#333" stroke-width="0.8"/><path d="M670.7,400.3 V398.3" stroke="#333" stroke-width="0.8"/><text transform="translate(527.6,337.3) rotate(-90)" font-size="11.1" text-anchor="middle" fill="#222">Plasmid Stability (%)</text><path d="M562.9,279.0 V290.6 M559.1,279.0 H566.7 M559.1,290.6 H566.7" stroke="#f03c3c" stroke-width="1.1"/><rect x="554.9" y="283.0" width="16" height="2.6" fill="#f03c3c"/><path d="M598.8,283.4 V302.0 M595.0,283.4 H602.6 M595.0,302.0 H602.6" stroke="#f03c3c" stroke-width="1.1"/><rect x="590.8" y="286.6" width="16" height="2.4" fill="#f03c3c"/><path d="M634.8,310.6 V326.6 M631.0,310.6 H638.6 M631.0,326.6 H638.6" stroke="#5050f5" stroke-width="1.1"/><rect x="626.8" y="324.0" width="16" height="2.6" fill="#5050f5"/><path d="M652.8,315.6 V322.6 M649.0,315.6 H656.5 M649.0,322.6 H656.5" stroke="#5050f5" stroke-width="1.1"/><rect x="644.8" y="316.0" width="16" height="2.2" fill="#5050f5"/><path d="M670.7,308.0 V317.0 M666.9,308.0 H674.5 M666.9,317.0 H674.5" stroke="#5050f5" stroke-width="1.1"/><rect x="662.7" y="308.0" width="16" height="2.4" fill="#5050f5"/><rect x="574.3" y="391.3" width="13.2" height="2.6" fill="#f47a7a" stroke="#f03c3c" stroke-width="0.8"/><rect x="609.4" y="393.4" width="14.8" height="2.6" fill="#5050f5"/><rect x="633.6" y="274.6" width="45.8" height="28.4" fill="#f2f2f2" stroke="#888" stroke-width="0.7"/><rect x="640.2" y="280.4" width="15.6" height="5.8" fill="none" stroke="#f03c3c" stroke-width="1.2"/><rect x="640.2" y="292.6" width="15.6" height="5.8" fill="none" stroke="#5050f5" stroke-width="1.2"/><text x="660" y="287" font-size="9" class="it" fill="#222">Km</text><text x="662" y="299" font-size="9" class="it" fill="#222">Sc</text><text x="549.6" y="415.7" font-size="9.3" class="it" text-anchor="end" fill="#222">KmARS1</text><path d="M560.20,412.4 H565.60 M562.90,409.7 V415.09999999999997" stroke="#111" stroke-width="1.2"/><path d="M578.17,412.4 H583.57 M580.87,409.7 V415.09999999999997" stroke="#111" stroke-width="1.2"/><path d="M596.14,412.4 H601.54 M598.84,409.7 V415.09999999999997" stroke="#111" stroke-width="1.2"/><path d="M614.11,412.4 H619.51 M616.81,409.7 V415.09999999999997" stroke="#111" stroke-width="1.2"/><path d="M633.08,412.79999999999995 H636.48" stroke="#111" stroke-width="1.1"/><path d="M650.05,412.4 H655.45 M652.75,409.7 V415.09999999999997" stroke="#111" stroke-width="1.2"/><path d="M668.02,412.4 H673.42 M670.72,409.7 V415.09999999999997" stroke="#111" stroke-width="1.2"/><text x="549.6" y="430.6" font-size="9.3" class="it" text-anchor="end" fill="#222">KmCEN5</text><path d="M560.20,427.3 H565.60 M562.90,424.6 V430.0" stroke="#111" stroke-width="1.2"/><path d="M579.17,427.7 H582.57" stroke="#111" stroke-width="1.1"/><path d="M596.14,427.3 H601.54 M598.84,424.6 V430.0" stroke="#111" stroke-width="1.2"/><path d="M614.11,427.3 H619.51 M616.81,424.6 V430.0" stroke="#111" stroke-width="1.2"/><path d="M633.08,427.7 H636.48" stroke="#111" stroke-width="1.1"/><path d="M651.05,427.7 H654.45" stroke="#111" stroke-width="1.1"/><path d="M668.02,427.3 H673.42 M670.72,424.6 V430.0" stroke="#111" stroke-width="1.2"/><text x="549.6" y="446.6" font-size="9.3" class="it" text-anchor="end" fill="#222">ScARSH4</text><path d="M561.20,443.7 H564.60" stroke="#111" stroke-width="1.1"/><path d="M579.17,443.7 H582.57" stroke="#111" stroke-width="1.1"/><path d="M596.14,443.3 H601.54 M598.84,440.6 V446.0" stroke="#111" stroke-width="1.2"/><path d="M615.11,443.7 H618.51" stroke="#111" stroke-width="1.1"/><path d="M632.08,443.3 H637.48 M634.78,440.6 V446.0" stroke="#111" stroke-width="1.2"/><path d="M651.05,443.7 H654.45" stroke="#111" stroke-width="1.1"/><path d="M668.02,443.3 H673.42 M670.72,440.6 V446.0" stroke="#111" stroke-width="1.2"/><text x="549.6" y="461.6" font-size="9.3" class="it" text-anchor="end" fill="#222">ScCEN6</text><path d="M561.20,458.7 H564.60" stroke="#111" stroke-width="1.1"/><path d="M578.17,458.3 H583.57 M580.87,455.6 V461.0" stroke="#111" stroke-width="1.2"/><path d="M596.14,458.3 H601.54 M598.84,455.6 V461.0" stroke="#111" stroke-width="1.2"/><path d="M615.11,458.7 H618.51" stroke="#111" stroke-width="1.1"/><path d="M632.08,458.3 H637.48 M634.78,455.6 V461.0" stroke="#111" stroke-width="1.2"/><path d="M650.05,458.3 H655.45 M652.75,455.6 V461.0" stroke="#111" stroke-width="1.2"/><path d="M668.02,458.3 H673.42 M670.72,455.6 V461.0" stroke="#111" stroke-width="1.2"/></g>
<g id="pe"><defs><radialGradient id="col1"><stop offset="0" stop-color="#8c8c8c"/><stop offset="0.75" stop-color="#9e9e9e"/><stop offset="1" stop-color="#a6a6a6"/></radialGradient></defs><rect x="550.6" y="504.1" width="120.6" height="24.5" fill="#4b4c4c"/><rect x="550.6" y="504.1" width="120.6" height="1" fill="#353535"/><rect x="550.6" y="532.6" width="120.6" height="25.1" fill="#4b4c4c"/><rect x="550.6" y="532.6" width="120.6" height="1" fill="#353535"/><rect x="550.6" y="561.1" width="120.6" height="25.5" fill="#4b4c4c"/><rect x="550.6" y="561.1" width="120.6" height="1" fill="#353535"/><circle cx="560.8" cy="516.5" r="6.2" fill="url(#col1)"/><circle cx="580.9" cy="516.5" r="5.9" fill="url(#col1)"/><circle cx="599.9" cy="516.5" r="6.0" fill="url(#col1)"/><circle cx="619.7" cy="516.5" r="6.1" fill="url(#col1)"/><circle cx="638.9" cy="516.5" r="5.8" fill="url(#col1)"/><circle cx="659.1" cy="516.5" r="7.7" fill="url(#col1)"/><circle cx="560.8" cy="544.5" r="7.2" fill="#a3a3a3"/><circle cx="580.9" cy="544.5" r="7.2" fill="#a3a3a3"/><circle cx="599.9" cy="544.5" r="7.0" fill="#a3a3a3"/><circle cx="619.7" cy="544.5" r="7.0" fill="#a3a3a3"/><circle cx="638.9" cy="544.5" r="6.2" fill="#a3a3a3"/><circle cx="659.1" cy="544.5" r="7.2" fill="#a3a3a3"/><circle cx="637.5" cy="572.6" r="6.6" fill="#9a9a9a"/><circle cx="658.1" cy="572.8" r="8.4" fill="#a6a6a6"/><text x="546" y="518.2" font-size="9.6" text-anchor="end" fill="#3030f0">Hyg</text><text x="546" y="547.6" font-size="9.6" text-anchor="end" fill="#f03030">G418</text><text x="546" y="573.7" font-size="9.6" text-anchor="end"><tspan fill="#3030f0">Hyg</tspan><tspan fill="#111"> + </tspan><tspan fill="#f03030">G418</tspan></text><text x="548.6" y="599.9" font-size="9.6" text-anchor="end" fill="#222"><tspan font-style="italic">Sc MAT</tspan><tspan font-weight="bold">a</tspan></text><path d="M557.1,596.6 H562.9 M560.0,593.7 V599.5" stroke="#3030f0" stroke-width="1.2"/><path d="M577.1999999999999,597.0 H580.6" stroke="#111" stroke-width="1.1"/><path d="M595.7,596.6 H601.5 M598.6,593.7 V599.5" stroke="#3030f0" stroke-width="1.2"/><path d="M617.0999999999999,597.0 H620.5" stroke="#111" stroke-width="1.1"/><path d="M636.1,596.6 H641.9 M639.0,593.7 V599.5" stroke="#3030f0" stroke-width="1.2"/><path d="M659.0,597.0 H662.4000000000001" stroke="#111" stroke-width="1.1"/><text x="548.6" y="614.5" font-size="9.6" text-anchor="end" fill="#222"><tspan font-style="italic">Sc MAT</tspan><tspan font-weight="normal">α</tspan></text><path d="M558.3,611.6 H561.7" stroke="#111" stroke-width="1.1"/><path d="M576.0,611.2 H581.8 M578.9,608.3000000000001 V614.1" stroke="#3030f0" stroke-width="1.2"/><path d="M596.9,611.6 H600.3000000000001" stroke="#111" stroke-width="1.1"/><path d="M615.9,611.2 H621.6999999999999 M618.8,608.3000000000001 V614.1" stroke="#3030f0" stroke-width="1.2"/><path d="M636.1,611.2 H641.9 M639.0,608.3000000000001 V614.1" stroke="#f03030" stroke-width="1.2"/><path d="M659.0,611.6 H662.4000000000001" stroke="#111" stroke-width="1.1"/><text x="548.6" y="629.3" font-size="9.6" text-anchor="end" fill="#222"><tspan font-style="italic">Km MAT</tspan><tspan font-weight="normal">α</tspan></text><path d="M558.3,626.4 H561.7" stroke="#111" stroke-width="1.1"/><path d="M577.1999999999999,626.4 H580.6" stroke="#111" stroke-width="1.1"/><path d="M595.7,626.0 H601.5 M598.6,623.1 V628.9" stroke="#f03030" stroke-width="1.2"/><path d="M615.9,626.0 H621.6999999999999 M618.8,623.1 V628.9" stroke="#f03030" stroke-width="1.2"/><path d="M637.3,626.4 H640.7" stroke="#111" stroke-width="1.1"/><path d="M657.8000000000001,626.0 H663.6 M660.7,623.1 V628.9" stroke="#f03030" stroke-width="1.2"/><text x="548.6" y="645.5" font-size="9.6" text-anchor="end" fill="#222"><tspan font-style="italic">Km MAT</tspan><tspan font-weight="bold">a</tspan></text><path d="M557.1,642.2 H562.9 M560.0,639.3000000000001 V645.1" stroke="#f03030" stroke-width="1.2"/><path d="M576.0,642.2 H581.8 M578.9,639.3000000000001 V645.1" stroke="#f03030" stroke-width="1.2"/><path d="M596.9,642.6 H600.3000000000001" stroke="#111" stroke-width="1.1"/><path d="M617.0999999999999,642.6 H620.5" stroke="#111" stroke-width="1.1"/><path d="M637.3,642.6 H640.7" stroke="#111" stroke-width="1.1"/><path d="M657.8000000000001,642.2 H663.6 M660.7,639.3000000000001 V645.1" stroke="#3030f0" stroke-width="1.2"/><text x="553.5" y="661.6" font-size="9.45" text-anchor="end" fill="#222">mating efficiency (%)</text><text x="560.0" y="661.6" font-size="9.45" text-anchor="middle" fill="#222">0</text><text x="578.9" y="661.6" font-size="9.45" text-anchor="middle" fill="#222">0</text><text x="598.6" y="661.6" font-size="9.45" text-anchor="middle" fill="#222">0</text><text x="618.8" y="661.6" font-size="9.45" text-anchor="middle" fill="#222">0</text><text x="639.0" y="661.6" font-size="9.45" text-anchor="middle" fill="#222">16.2</text><text x="660.7" y="661.6" font-size="9.45" text-anchor="middle" fill="#222">15.6</text></g>
</svg>
</body></html>
